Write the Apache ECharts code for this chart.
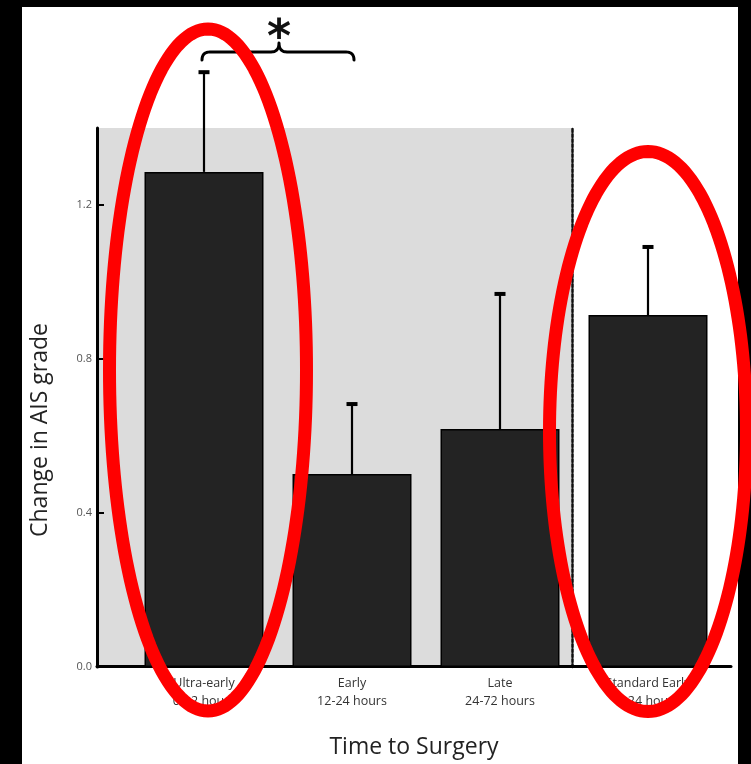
<!DOCTYPE html>
<html><head><meta charset="utf-8">
<script src="https://cdn.jsdelivr.net/npm/echarts@6/dist/echarts.min.js"></script>
<style>html,body{margin:0;padding:0;background:#000;}#c{width:751px;height:764px;}</style>
</head><body><div id="c"></div>
<script>
// ---- data ----
const categories = ['Ultra-early\n0-12 hours', 'Early\n12-24 hours', 'Late\n24-72 hours', 'Standard Early\n0-24 hours'];
const means = [1.286, 0.501, 0.618, 0.914];
const upperErr = [1.545, 0.683, 0.969, 1.091];
const yTicks = [0, 0.4, 0.8, 1.2];
const yMax = 1.4;
const yName = 'Change in AIS grade';
const xName = 'Time to Surgery';
const sigLabel = '*';

const chart = echarts.init(document.getElementById('c'), null, {renderer: 'canvas'});
const G = {top: 128, bottom: 97};
const errData = categories.map((c, i) => [i, means[i], upperErr[i]]);

chart.setOption({
  backgroundColor: '#000',
  animation: false,
  grid: [
    {left: 97, width: 475, top: G.top, bottom: G.bottom, show: true, backgroundColor: '#dcdcdc', borderWidth: 0},
    {left: 130, width: 592, top: G.top, bottom: G.bottom},
    {left: 97, width: 634, top: G.top, bottom: G.bottom}
  ],
  xAxis: [
    {gridIndex: 0, type: 'value', min: 0, max: 1, show: false},
    {gridIndex: 1, type: 'category', data: categories,
      axisLine: {show: false}, axisTick: {show: false},
      axisLabel: {fontFamily: 'Open Sans', fontSize: 12.5, lineHeight: 18, color: '#333', margin: 7}},
    {gridIndex: 2, type: 'value', min: 0, max: 1, splitLine: {show: false},
      axisLine: {show: true, lineStyle: {color: '#000', width: 3}}, axisTick: {show: false}, axisLabel: {show: false},
      name: xName, nameLocation: 'middle', nameGap: 70,
      nameTextStyle: {fontFamily: 'Open Sans', fontSize: 23, color: '#222'}}
  ],
  yAxis: [
    {gridIndex: 0, type: 'value', min: 0, max: yMax, splitLine: {show: false},
      axisLine: {show: true, lineStyle: {color: '#000', width: 3}},
      axisTick: {show: true, inside: true, length: 7, lineStyle: {color: '#000', width: 2}, customValues: yTicks},
      axisLabel: {fontFamily: 'Open Sans', fontSize: 11, color: '#555', margin: 5, customValues: yTicks,
        formatter: v => v.toFixed(1)}},
    {gridIndex: 0, type: 'value', position: 'right', min: 0, max: yMax, splitLine: {show: false},
      axisLine: {show: true, lineStyle: {color: '#111', width: 2.5, type: [3, 2]}},
      axisTick: {show: false}, axisLabel: {show: false}},
    {gridIndex: 1, type: 'value', min: 0, max: yMax, show: false},
    {gridIndex: 2, type: 'value', min: 0, max: yMax, show: false}
  ],
  series: [
    {type: 'custom', xAxisIndex: 1, yAxisIndex: 2, data: errData, z: 1,
      renderItem: function (params, api) {
        const b = api.coord([api.value(0), api.value(1)]);
        const t = api.coord([api.value(0), api.value(2)]);
        return {type: 'group', children: [
          {type: 'line', shape: {x1: b[0], y1: b[1], x2: t[0], y2: t[1]}, style: {stroke: '#000', lineWidth: 2.2}},
          {type: 'line', shape: {x1: t[0] - 5.5, y1: t[1], x2: t[0] + 5.5, y2: t[1]}, style: {stroke: '#000', lineWidth: 4}}
        ]};
      }},
    {type: 'bar', xAxisIndex: 1, yAxisIndex: 2, data: means, barWidth: 119, z: 2,
      itemStyle: {color: '#232323', borderColor: '#000', borderWidth: 1.5}}
  ]
});

// ---- annotations placed from the axes ----
const px = i => chart.convertToPixel({gridIndex: 1}, [i, 0])[0];
function quad(p0, c, p1, n) {
  const pts = [];
  for (let k = 0; k <= n; k++) {
    const t = k / n, u = 1 - t;
    pts.push([u * u * p0[0] + 2 * u * t * c[0] + t * t * p1[0], u * u * p0[1] + 2 * u * t * c[1] + t * t * p1[1]]);
  }
  return pts;
}
function ellipsePts(cx, cy, rx, ry) {
  const pts = [];
  for (let k = 0; k < 180; k++) {
    const th = k / 180 * Math.PI * 2;
    pts.push([cx + rx * Math.cos(th), cy + ry * Math.sin(th)]);
  }
  return pts;
}
const a = px(0) - 2, b = px(1) + 2, m = (px(0) + px(1)) / 2 + 1;
const yl = 52;
const bracePts = [].concat(
  quad([a, 60], [a, yl], [a + 8, yl], 8),
  quad([m - 8, yl], [m, yl], [m, yl - 9], 8),
  quad([m, yl - 9], [m, yl], [m + 8, yl], 8),
  quad([b - 8, yl], [b, yl], [b, 60], 8)
);
chart.setOption({
  graphic: [
    {type: 'rect', z: -100, silent: true, shape: {x: 22, y: 7, width: 716, height: 760}, style: {fill: '#fff'}},
    {type: 'text', x: 40, y: 430, rotation: Math.PI / 2, silent: true,
      style: {text: yName, fontFamily: 'Open Sans', fontSize: 23, fill: '#222', align: 'center', verticalAlign: 'middle'}},
    {type: 'polyline', silent: true, shape: {points: bracePts},
      style: {stroke: '#000', lineWidth: 3, fill: null, lineJoin: 'round', lineCap: 'round'}},
    {type: 'text', x: m, y: 40, silent: true,
      style: {text: sigLabel, fontFamily: 'DejaVu Sans', fontWeight: 'bold', fontSize: 46, fill: '#111', align: 'center', verticalAlign: 'middle'}},
    {type: 'polygon', z: 100, silent: true, shape: {points: ellipsePts(px(0) + 4, 370, 98.5, 341)},
      style: {stroke: '#ff0000', lineWidth: 13, fill: null}},
    {type: 'polygon', z: 100, silent: true, shape: {points: ellipsePts(px(3), 431.5, 98.5, 280)},
      style: {stroke: '#ff0000', lineWidth: 13, fill: null}}
  ]
});
</script></body></html>
